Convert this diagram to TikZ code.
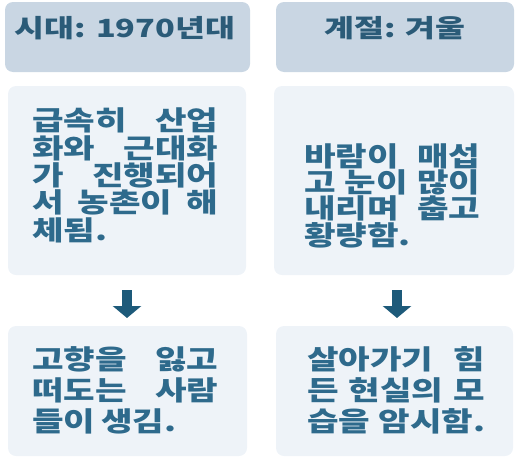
\documentclass[tikz,border=0pt]{standalone}
\usepackage{fontspec}
\newfontfamily\kr[FakeStretch=1.27]{Noto Sans CJK KR}
\newfontfamily\krh[FakeStretch=1.3]{Noto Sans CJK KR}
\usetikzlibrary{arrows.meta}
\definecolor{hdrfill}{HTML}{C9D6E3}
\definecolor{boxfill}{HTML}{EEF3F8}
\definecolor{hdrtext}{HTML}{2B5B78}
\definecolor{bodytext}{HTML}{2E6A8C}
\definecolor{arrowcol}{HTML}{1D5A7A}
\newcommand\jline[2]{\makebox[#1][l]{#2}}
\tikzset{
  hdrbox/.style={fill=hdrfill, rounded corners=8pt},
  bodybox/.style={fill=boxfill, rounded corners=8pt},
  hdrlabel/.style={anchor=base, inner sep=0pt, text=hdrtext, font=\krh\bfseries\fontsize{25}{28}\selectfont},
  bodylabel/.style={anchor=base west, inner sep=0pt, align=left, text=bodytext},
  downarrow/.style={draw=arrowcol, line width=10pt, -{Triangle[width=28pt,length=12pt]}, shorten <=0pt}
}
\begin{document}
\begin{tikzpicture}[x=1pt,y=-1pt]
\useasboundingbox (0,0) rectangle (516,458);
% boxes
\path[hdrbox] (5,2) rectangle (250,72);
\path[hdrbox] (276,2) rectangle (514,72);
\path[bodybox] (8,86) rectangle (246,275);
\path[bodybox] (274,86) rectangle (514,275);
\path[bodybox] (8,326) rectangle (247,456);
\path[bodybox] (276,326) rectangle (513,456);
% headers
\node[hdrlabel] (h1) at (125,37) {시대: 1970년대};
\node[hdrlabel] (h2) at (395,37) {계절: 겨울};
% body texts (anchored at the last line's baseline)
\node[bodylabel, font=\kr\bfseries\fontsize{27}{27.3}\selectfont] (m1) at (32,240)
  {\jline{186pt}{급속히\hfill 산업}\\
   \jline{186pt}{화와\hfill 근대화}\\
   \jline{186pt}{가\hfill 진행되어}\\
   \jline{186pt}{서\hfill 농촌이\hfill 해}\\
   체됨.};
\node[bodylabel, font=\kr\bfseries\fontsize{27}{26.3}\selectfont] (m2) at (304,245)
  {\jline{176pt}{바람이\hfill 매섭}\\
   \jline{176pt}{고\hfill 눈이\hfill 많이}\\
   \jline{176pt}{내리며\hfill 춥고}\\
   황량함.};
\node[bodylabel, font=\kr\bfseries\fontsize{27}{31}\selectfont] (b1) at (32,431)
  {\jline{186pt}{고향을\hfill 잃고}\\
   \jline{186pt}{떠도는\hfill 사람}\\
   들이\hspace{6pt}생김.};
\node[bodylabel, font=\kr\bfseries\fontsize{27}{31}\selectfont] (b2) at (307,431)
  {\jline{178pt}{살아가기\hfill 힘}\\
   \jline{178pt}{든\hfill 현실의\hfill 모}\\
   \jline{178pt}{습을\hfill 암시함.}};
% arrows
\coordinate (a1s) at (127,290);
\coordinate (a1e) at (127,318);
\coordinate (a2s) at (397,290);
\coordinate (a2e) at (397,318);
\draw[downarrow] (a1s) -- (a1e);
\draw[downarrow] (a2s) -- (a2e);
\end{tikzpicture}
\end{document}
